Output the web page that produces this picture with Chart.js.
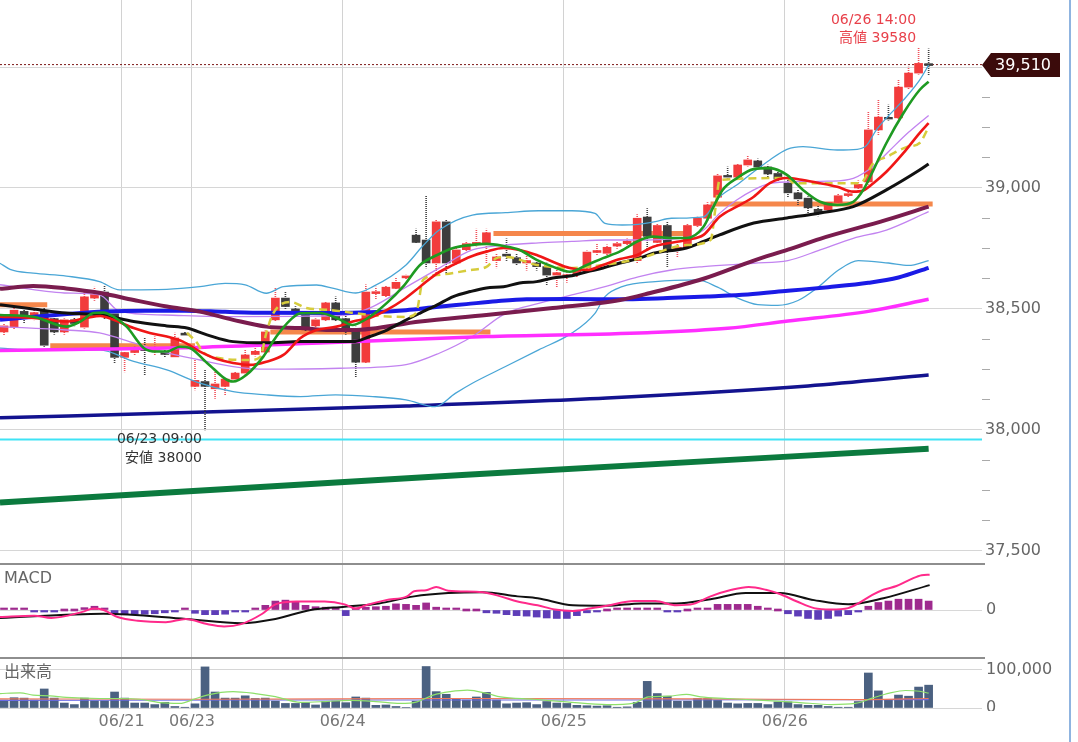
<!DOCTYPE html>
<html><head><meta charset="utf-8">
<script src="https://cdn.jsdelivr.net/npm/chart.js@4.4.1/dist/chart.umd.min.js"></script>
<style>
html,body{margin:0;padding:0;background:#fff;overflow:hidden;}
#wrap{position:relative;width:1078px;height:742px;background:#fff;}
canvas{position:absolute;left:0;}
#edge{position:absolute;left:1069px;top:0;width:2px;height:742px;background:#8fb4e0;}
</style></head><body>
<div id="wrap">
<canvas id="cMain" width="1078" height="563" style="top:0px"></canvas>
<canvas id="cMacd" width="1078" height="94" style="top:563px"></canvas>
<canvas id="cVol" width="1078" height="85" style="top:657px"></canvas>
<div id="edge"></div>
</div>
<script>
// ---------- categories (hourly bars) ----------
const times = [
'06/20 11:00','06/20 12:00','06/20 13:00','06/20 14:00','06/20 15:00','06/20 17:00','06/20 18:00','06/20 19:00','06/20 20:00','06/20 21:00','06/20 22:00','06/20 23:00',
'06/21 00:00','06/21 01:00','06/21 02:00','06/21 03:00','06/21 04:00','06/21 05:00','06/21 06:00',
'06/23 08:00','06/23 09:00','06/23 10:00','06/23 11:00','06/23 12:00','06/23 13:00','06/23 14:00','06/23 15:00','06/23 17:00','06/23 18:00','06/23 19:00','06/23 20:00','06/23 21:00','06/23 22:00','06/23 23:00',
'06/24 00:00','06/24 01:00','06/24 02:00','06/24 03:00','06/24 04:00','06/24 05:00','06/24 06:00','06/24 08:00','06/24 09:00','06/24 10:00','06/24 11:00','06/24 12:00','06/24 13:00','06/24 14:00','06/24 15:00','06/24 17:00','06/24 18:00','06/24 19:00','06/24 20:00','06/24 21:00','06/24 22:00','06/24 23:00',
'06/25 00:00','06/25 01:00','06/25 02:00','06/25 03:00','06/25 04:00','06/25 05:00','06/25 06:00','06/25 08:00','06/25 09:00','06/25 10:00','06/25 11:00','06/25 12:00','06/25 13:00','06/25 14:00','06/25 15:00','06/25 17:00','06/25 18:00','06/25 19:00','06/25 20:00','06/25 21:00','06/25 22:00','06/25 23:00',
'06/26 00:00','06/26 01:00','06/26 02:00','06/26 03:00','06/26 04:00','06/26 05:00','06/26 06:00','06/26 08:00','06/26 09:00','06/26 10:00','06/26 11:00','06/26 12:00','06/26 13:00','06/26 14:00','06/26 15:00'];
const dateTickIdx = [12, 19, 34, 56, 78];
const dateTickLabels = ['06/21', '06/23', '06/24', '06/25', '06/26'];

// ---------- OHLC ----------
const opens = [38405,38425,38490,38460,38490,38460,38405,38455,38425,38545,
38570,38480,38300,38320,38335,38328,38325,38302,38400,38180,
38200,38170,38180,38210,38235,38312,38322,38455,38545,38500,
38475,38430,38455,38525,38460,38415,38280,38565,38555,38585,
38630,38805,38785,38690,38860,38690,38745,38765,38773,38700,
38725,38712,38690,38690,38675,38640,38635,38645,38670,38735,
38730,38760,38770,38700,38880,38775,38845,38745,38755,38845,
38875,38962,39052,39045,39095,39112,39087,39060,39020,38980,
38958,38912,38910,38940,38970,39000,39025,39240,39292,39290,
39417,39475,39514];
const highs = [38440,38505,38505,38495,38505,38470,38460,38465,38580,38590,
38595,38490,38325,38345,38380,38385,38340,38400,38405,38290,
38250,38250,38215,38240,38330,38345,38410,38585,38570,38510,
38490,38460,38530,38550,38470,38425,38600,38590,38595,38630,
38640,38830,38970,38870,38870,38760,38780,38830,38830,38730,
38790,38730,38720,38700,38690,38670,38650,38665,38740,38770,
38765,38780,38790,38890,38915,38850,38860,38770,38850,38880,
38940,39060,39087,39100,39135,39120,39095,39070,39040,38990,
38965,38925,38945,38975,38985,39030,39314,39364,39343,39446,
39500,39580,39575];
const lows = [38390,38415,38440,38455,38345,38395,38395,38430,38420,38535,
38460,38275,38240,38310,38228,38310,38300,38300,38395,38165,
38000,38130,38145,38205,38230,38305,38318,38450,38500,38480,
38410,38420,38450,38450,38395,38220,38275,38540,38550,38580,
38625,38770,38670,38650,38650,38685,38740,38760,38690,38670,
38700,38680,38660,38660,38600,38590,38610,38630,38660,38720,
38720,38750,38760,38690,38744,38760,38675,38715,38745,38840,
38865,38955,39040,39040,39090,39080,39040,39030,38960,38930,
38895,38885,38900,38935,38960,38990,39015,39220,39280,39285,
39410,39470,39465];
const closes = [38430,38495,38470,38485,38350,38405,38455,38440,38550,38560,
38470,38300,38320,38335,38328,38336,38312,38380,38392,38205,
38180,38190,38210,38235,38310,38325,38405,38545,38510,38485,
38420,38455,38525,38455,38420,38280,38570,38570,38590,38610,
38635,38775,38690,38860,38690,38744,38770,38775,38815,38715,
38720,38690,38700,38675,38640,38650,38640,38660,38735,38740,
38755,38770,38780,38875,38800,38845,38745,38755,38845,38875,
38930,39050,39045,39095,39116,39087,39058,39037,38980,38955,
38918,38896,38940,38968,38975,39015,39240,39293,39285,39417,
39475,39515,39506];

// ---------- moving averages / bands (bar index, price) ----------
const maGreen = [[-0.4,38475],[2.9,38468],[6.2,38427],[7.6,38448],[8.9,38483],[9.9,38485],[10.9,38468],[12.2,38427],[13.9,38339],[15.2,38324],[16.2,38324],[17.5,38344],[18.5,38339],[20.2,38277],[22.8,38200],[24.1,38227],[25.8,38303],[27.1,38386],[28.5,38455],[29.5,38482],[31.4,38483],[33.1,38463],[34.7,38434],[36.4,38468],[38.1,38525],[39.7,38592],[41.4,38682],[43.1,38723],[44.7,38752],[46.4,38764],[48,38769],[49.7,38760],[51.3,38744],[53,38703],[54.6,38675],[56.3,38654],[58,38682],[59.6,38710],[61.3,38738],[63.3,38785],[64.6,38799],[66.3,38793],[67.9,38793],[69.6,38840],[70.6,38923],[71.5,38992],[72.9,39040],[74.6,39078],[76.2,39082],[77.9,39054],[79.5,38992],[81.2,38943],[82.9,38930],[84.5,38943],[85.5,38992],[86.5,39074],[87.8,39186],[89.5,39310],[91.1,39405],[92,39439]];
const maRed = [[-0.4,38468],[2.9,38463],[6.2,38448],[8.2,38463],[9.6,38471],[10.9,38455],[12.9,38421],[14.5,38401],[16.2,38386],[17.8,38365],[19.5,38324],[21.2,38293],[22.8,38277],[24.5,38269],[26.1,38282],[27.8,38310],[29.5,38380],[31.1,38413],[33.1,38427],[34.7,38448],[36.4,38463],[38.1,38496],[39.7,38537],[41.4,38592],[43.1,38647],[44.7,38682],[46.4,38716],[48,38737],[49.7,38752],[51.3,38744],[53,38723],[54.6,38695],[56.3,38669],[58,38661],[59.6,38682],[61.3,38706],[63,38723],[64.6,38757],[67.9,38785],[69.6,38806],[71.2,38881],[72.9,38923],[74.6,38964],[76.2,39020],[77.9,39041],[79.5,39033],[81.2,39020],[82.9,39005],[84.5,38985],[85.5,38990],[86.5,39020],[87.8,39067],[89.5,39145],[91.1,39227],[92,39268]];
const maYellow = [[18.2,38401],[19.2,38360],[19.8,38322],[21.2,38298],[24.5,38289],[25.5,38302],[26.1,38401],[26.8,38483],[28.5,38529],[30.1,38504],[32.4,38496],[37.4,38471],[40,38467],[41,38483],[41.7,38620],[43.1,38640],[46.4,38661],[48,38674],[49,38710],[50,38715],[53,38682],[56.3,38669],[59.6,38682],[63,38706],[67.9,38764],[70.3,38785],[70.8,38921],[71.2,39033],[77.9,39041],[78.6,39020],[85.2,39020],[86.5,39103],[87.8,39128],[89.8,39169],[91.1,39186],[92,39252]];
const maBlack = [[-0.4,38517],[2.9,38500],[6.2,38483],[9.6,38475],[12.9,38448],[16.2,38430],[18.2,38421],[20.2,38393],[22.8,38365],[26.1,38360],[29.5,38365],[34.7,38365],[36.4,38386],[38.1,38413],[39.7,38448],[41.4,38483],[43.1,38517],[44.7,38551],[46.4,38572],[48,38587],[49.7,38592],[51.3,38607],[53,38613],[54.6,38628],[56.3,38636],[58,38654],[59.6,38669],[61.3,38690],[63,38707],[64.6,38730],[67.9,38752],[69.6,38779],[71.2,38806],[74.6,38855],[77.9,38876],[81.2,38897],[84.5,38923],[87.8,38992],[91.1,39074],[92,39099]];
const maMaroon = [[-0.4,38583],[2.9,38595],[6.2,38585],[9.6,38566],[12.9,38537],[16.2,38510],[19.5,38489],[22.8,38455],[26.1,38427],[29.5,38421],[32.4,38413],[34.7,38413],[41.4,38448],[48,38475],[54.6,38504],[61.3,38537],[64.3,38566],[69.6,38625],[74.6,38700],[78,38745],[81.2,38790],[87.8,38868],[92,38923]];
const maBlue = [[-0.4,38455],[3,38468],[6,38478],[10,38489],[14,38493],[18,38493],[22,38488],[26,38484],[33,38483],[36.4,38486],[40,38495],[43,38508],[46,38520],[49,38532],[52,38540],[56,38541],[62,38540],[66,38545],[70,38552],[74,38560],[78,38575],[82,38590],[86,38608],[89,38630],[92,38670]];
const maMagenta = [[-0.4,38328],[10,38335],[20,38342],[32,38360],[48,38386],[64,38402],[72,38420],[78,38450],[86,38490],[92,38540]];
const maNavy = [[-0.4,38050],[20,38074],[40,38099],[60,38132],[80,38182],[92,38227]];
const maDarkGreen = [[-0.4,37700],[46,37815],[92,37922]];
const bbUpper2 = [[-0.4,38689],[0.6,38664],[2.9,38648],[6.2,38636],[9.5,38613],[11.5,38579],[16.2,38581],[19.5,38592],[22,38606],[24,38600],[26.1,38565],[27.8,38592],[31.1,38599],[32.8,38585],[35,38566],[36.7,38592],[40,38682],[41.6,38757],[43.3,38826],[46.6,38888],[49.9,38898],[53.2,38906],[56.5,38906],[58.8,38895],[59.8,38854],[61.5,38847],[63.1,38850],[64.8,38861],[66.4,38875],[69.6,38881],[71.2,38964],[72.9,39012],[74.6,39067],[76.2,39116],[77.9,39160],[79.5,39171],[82.9,39157],[84.9,39160],[85.8,39175],[86.8,39240],[87.8,39289],[89.5,39364],[91.1,39446],[92,39508]];
const bbUpper1 = [[-0.4,38600],[6,38566],[9.5,38558],[11.5,38490],[16,38475],[23,38468],[30,38470],[34,38475],[36.7,38510],[40,38590],[43.3,38669],[46.6,38744],[49.9,38764],[53.2,38773],[56.5,38779],[59.8,38785],[63,38785],[67.9,38795],[69.6,38826],[71.2,38895],[72.9,38950],[74.6,38992],[76.2,39019],[79,39026],[82,39028],[84.5,39040],[86.5,39090],[88,39150],[90,39230],[92,39300]];
const bbLower1 = [[-0.4,38427],[6.2,38413],[9.5,38401],[12.9,38360],[16.2,38318],[19.5,38289],[22.8,38262],[26.1,38251],[33.4,38255],[40,38270],[43.3,38317],[46.6,38386],[49.9,38482],[53.2,38523],[56.5,38558],[59.8,38592],[63.1,38633],[66.4,38661],[69.6,38675],[74.6,38689],[78,38700],[81.2,38744],[84.5,38792],[87.8,38826],[92,38902]];
const bbLower2 = [[-0.4,38338],[2.9,38331],[9.5,38331],[12.9,38283],[16.2,38248],[19.5,38193],[22.8,38158],[26.1,38145],[29.5,38138],[33,38145],[36.7,38138],[40,38124],[42.9,38096],[44.9,38151],[46.6,38193],[49.9,38262],[53.2,38331],[56.5,38400],[58.8,38482],[59.8,38551],[61.5,38592],[64.8,38613],[69,38620],[71,38590],[73,38545],[75,38518],[77,38515],[79,38535],[81,38590],[83,38660],[85,38700],[88,38690],[90,38680],[92,38700]];
// horizontal price levels
const levelFrom  = [-0.4, 4.6, 26.5, 48.7, 70.3];
const levelTo    = [4.3, 19.0, 48.4, 68.3, 92.4];
const levelPrice = [38517, 38348, 38405, 38812, 38934];
const cyanLevel = 37960;
const lastPrice = 39510;
const highIdx = 91, highVal = 39580, highTime = '06/26 14:00';
const lowIdx = 20, lowVal = 38000, lowTime = '06/23 09:00';
const priceTickValues = [37500,37625,37750,37875,38000,38125,38250,38375,38500,38625,38750,38875,39000,39125,39250,39375,39500];

// ---------- MACD ----------
const macdLine = [[-0.4,-15],[3,-12],[4.7,-17],[7.8,-4],[8.9,3],[9.9,0],[11.3,-15],[13.3,-23],[16.1,-26],[18.1,-19],[20.2,-30],[21.9,-35],[23.6,-30],[25.7,-8],[27,12],[29.1,18],[31.9,18],[33.9,12],[35,3],[36,10],[38,21],[40.1,29],[40.8,40],[42,42],[43,49],[44.2,41],[47.6,38],[49.4,29],[51.1,18],[53.1,10],[54.8,1],[56.6,-2],[58.3,3],[60,9],[62.7,19],[64.8,19],[66.9,10],[68.6,13],[70.3,29],[72.4,43],[74.1,49],[75.8,43],[77.2,34],[78.9,18],[80.6,4],[82.3,1],[84,4],[85,14],[86.4,32],[87.5,43],[88.8,51],[90.2,65],[91.3,74],[92.1,75]];
const macdSignal = [[-0.4,-17],[9.9,-8],[18.1,-19],[23.6,-28],[27,-19],[30.5,0],[33.9,7],[37.3,14],[40.8,29],[44.2,36],[47.6,38],[51.1,29],[53.1,25],[56.6,10],[60,9],[63.4,14],[66.9,14],[70.3,23],[73.8,36],[77.2,36],[80.6,21],[84,12],[87.5,25],[92.1,53]];
const macdHist = [1,1,1,-3,-3,-3,0,0,5,8,
3,-9,-9,-9,-9,-8,-6,-1,1,-7,
-10,-10,-9,-4,-1,4,10,19,21,18,
10,7,6,4,-12,4,6,7,8,13,
12,10,15,6,1,1,0,0,-6,-7,
-10,-12,-13,-15,-17,-18,-18,-12,-6,-3,
0,1,3,4,1,1,-3,-4,0,1,
4,12,12,12,12,8,1,0,-8,-13,
-18,-20,-18,-13,-10,-4,8,16,19,23,
23,23,19];
const macdTicks = [0];

// ---------- Volume ----------
const volumes = [21000,27000,26000,21000,50000,26000,13000,9000,26000,19000,
19000,42000,26000,13000,13000,9000,15000,4000,2000,11000,
108000,42000,26000,26000,32000,25000,26000,18000,12000,12000,
14000,8000,17000,18000,14000,29000,26000,7000,8000,4000,
1500,18000,109000,43000,36000,23000,21000,29000,41000,21000,
11000,13000,14000,9000,17000,13000,12000,7000,6000,5000,
6000,2000,3000,15000,70000,38000,31000,18000,18000,25000,
25000,20000,13000,11000,12000,12000,9000,16000,16000,9000,
7000,7000,4000,2000,2000,17000,92000,45000,21000,34000,
31000,55000,60000];
const volMaGreen = [[-0.4,38000],[1.6,40000],[2.9,34000],[4.6,32000],[6.2,28000],[9.5,25000],[11.5,25000],[13.5,23000],[15.5,14000],[17.5,12000],[18.8,22000],[20.2,34000],[22.8,43000],[25,38000],[27,30000],[29.5,15000],[32,17000],[34.4,20000],[37,17000],[39.4,12000],[41.1,16000],[42.7,34000],[44.4,43000],[46.1,47000],[48.1,38000],[49.4,29000],[52.7,23000],[56,16000],[60,9000],[62.7,13000],[64.1,29000],[66.1,31000],[67.9,36000],[69.3,29000],[72,25000],[75.5,20000],[78.9,15000],[82.3,9000],[84.7,12000],[86.4,26000],[88.1,39000],[89.7,46000],[91.1,44000],[92,39000]];
const volMaRed = [[-0.4,24000],[20,23000],[45,25000],[70,24000],[85,22000],[92,25000]];
const volMaPurple = [[-0.4,20000],[30,21000],[60,21000],[92,22000]];
const volTicks = [0, 100000];

// ---------- layout constants ----------
const X_MIN = -0.4, X_MAX = 97.31, AXIS_W = 96;
const FONT = '"DejaVu Sans","Noto Sans CJK JP",sans-serif';
Chart.defaults.font.family = FONT;
Chart.defaults.animation = false;

const pts = a => a.map(p => ({x: p[0], y: p[1]}));
function lineDS(arr, color, width, order, extra) {
  return Object.assign({type: 'line', data: pts(arr), borderColor: color, borderWidth: width,
    pointRadius: 0, fill: false, cubicInterpolationMode: 'monotone', order: order}, extra || {});
}
function zeroPad(s){ s.paddingTop = 0; s.paddingBottom = 0; s.paddingLeft = 0; s.paddingRight = 0; }
function xScale(showLabels, h) {
  return {
    type: 'linear', min: X_MIN, max: X_MAX, bounds: 'data', offset: false,
    afterBuildTicks: ax => { ax.ticks = dateTickIdx.map(v => ({value: v - 0.3})); },
    ticks: { display: showLabels, autoSkip: false, maxRotation: 0, minRotation: 0, padding: 4,
      color: '#777', font: {size: 16}, callback: (v, i) => dateTickLabels[i] },
    grid: { color: '#d2d2d2', drawTicks: false, lineWidth: 1, offset: false },
    border: { display: false },
    afterFit: s => { s.height = h; zeroPad(s); }
  };
}
function dotPattern(ctx, color) {
  const c = document.createElement('canvas'); c.width = 2; c.height = 2;
  const g = c.getContext('2d'); g.fillStyle = color; g.fillRect(0, 0, 2, 1);
  return ctx.createPattern(c, 'repeat');
}
const isUp = i => closes[i] >= opens[i];
function bodyRange(i) {
  const o = opens[i], c = closes[i];
  if (Math.abs(o - c) < 7) { const m = (o + c) / 2; return [m - 4, m + 4]; }
  return [o, c];
}

// ---------- main chart ----------
const mctx = document.getElementById('cMain').getContext('2d');
const redDots = dotPattern(mctx, '#f0505a');
const darkDots = dotPattern(mctx, '#404040');
const idx = opens.map((_, i) => i);

const mainDatasets = [
  lineDS(maGreen, '#1e9a22', 2.6, 1),
  lineDS(maRed, '#f01616', 2.6, 2),
  lineDS(maYellow, '#d6cc3c', 2.5, 3, {borderDash: [8, 5]}),
  lineDS(maBlack, '#111111', 3, 4),
  lineDS(maMaroon, '#7a1c4e', 4, 5),
  lineDS(maBlue, '#1a1ae6', 4, 6),
  lineDS(maMagenta, '#ff2eff', 3.5, 7),
  lineDS(bbUpper2, '#4aa6d6', 1.3, 9),
  lineDS(bbLower2, '#4aa6d6', 1.3, 9),
  lineDS(bbUpper1, '#c283f0', 1.3, 9),
  lineDS(bbLower1, '#c283f0', 1.3, 9),
  { type: 'bar', data: idx.map(i => ({x: i, y: bodyRange(i)})), grouped: false, barThickness: 8,
    backgroundColor: c => isUp(c.dataIndex) ? '#f23c3c' : '#3d3d3d', borderWidth: 0, order: 12 },
  { type: 'bar', data: idx.map(i => ({x: i, y: [lows[i], highs[i]]})), grouped: false, barThickness: 1,
    backgroundColor: c => isUp(c.dataIndex) ? redDots : darkDots, borderWidth: 0, order: 13 },
  lineDS([[X_MIN, lastPrice], [X_MAX, lastPrice]], '#7a1414', 1, 14, {borderDash: [2, 2]}),
  lineDS(maNavy, '#13138f', 3.5, 16),
  lineDS(maDarkGreen, '#0b7a3e', 6, 16),
  lineDS([[X_MIN, cyanLevel], [X_MAX, cyanLevel]], '#3fe3f5', 2, 16)
];
levelPrice.forEach((p, k) => {
  mainDatasets.push(lineDS([[levelFrom[k], p], [levelTo[k], p]], '#f5874b', 5, 15, {borderCapStyle: 'butt'}));
});

const mainDecor = {
  id: 'mainDecor',
  afterDraw(chart) {
    const {ctx, scales: {x, y}, chartArea} = chart;
    ctx.save();
    ctx.textBaseline = 'middle';
    ctx.font = '14px ' + FONT;
    ctx.textAlign = 'right';
    const hx = x.getPixelForValue(highIdx) - 2.5, hy = y.getPixelForValue(highVal);
    ctx.fillStyle = '#e8404a';
    ctx.fillText(highTime, hx, hy - 27);
    ctx.fillText('高値 ' + highVal, hx, hy - 9);
    const lx = x.getPixelForValue(lowIdx) - 3, ly = y.getPixelForValue(lowVal);
    ctx.fillStyle = '#333333';
    ctx.fillText(lowTime, lx, ly + 9);
    ctx.fillText('安値 ' + lowVal, lx, ly + 28);
    const py = Math.round(y.getPixelForValue(lastPrice));
    const L = chartArea.right;
    ctx.fillStyle = '#3b0b0b';
    ctx.beginPath();
    ctx.moveTo(L, py); ctx.lineTo(L + 9, py - 12); ctx.lineTo(L + 78, py - 12);
    ctx.lineTo(L + 78, py + 12); ctx.lineTo(L + 9, py + 12); ctx.closePath(); ctx.fill();
    ctx.fillStyle = '#ffffff';
    ctx.font = '16px ' + FONT;
    ctx.textAlign = 'left';
    ctx.fillText(lastPrice.toLocaleString('en-US'), L + 13, py + 1);
    ctx.restore();
  }
};

new Chart(mctx, {
  type: 'line',
  data: { datasets: mainDatasets },
  options: {
    responsive: false, animation: false, events: [],
    layout: { padding: 0 },
    plugins: { legend: { display: false }, tooltip: { enabled: false } },
    scales: {
      x: xScale(false, 0),
      y: {
        position: 'right', min: 37450, max: 39777, bounds: 'data',
        afterBuildTicks: ax => { ax.ticks = priceTickValues.map(v => ({value: v})); },
        ticks: { autoSkip: false, color: '#666', font: {size: 16}, padding: -5,
          callback: v => (v % 500 === 0 ? v.toLocaleString('en-US') : '') },
        grid: {
          color: c => (c.tick && c.tick.value % 500 === 0) ? '#d6d6d6' : 'rgba(0,0,0,0)',
          tickColor: c => (c.tick && c.tick.value % 500 === 0) ? 'rgba(0,0,0,0)' : '#aaaaaa',
          tickLength: 8, lineWidth: 1
        },
        border: { display: false },
        afterFit: s => { s.width = AXIS_W; zeroPad(s); }
      }
    }
  },
  plugins: [mainDecor]
});

// ---------- panel decoration ----------
function panelDecor(title, coverZero) {
  return {
    id: 'panel_' + (coverZero ? 'vol' : 'macd'),
    afterDraw(chart) {
      const {ctx, chartArea} = chart;
      ctx.save();
      ctx.fillStyle = '#8e8e8e';
      ctx.fillRect(0, 0, chartArea.right + 3, 2);
      ctx.fillStyle = '#666';
      ctx.font = '16px ' + FONT;
      ctx.textAlign = 'left'; ctx.textBaseline = 'middle';
      ctx.fillText(title, 4, 16);
      if (coverZero) {
        ctx.fillStyle = '#fff';
        ctx.fillRect(chartArea.right + 1, chartArea.bottom + 3, 90, 40);
      }
      ctx.restore();
    }
  };
}

// ---------- MACD chart ----------
new Chart(document.getElementById('cMacd').getContext('2d'), {
  type: 'line',
  data: { datasets: [
    lineDS(macdLine, '#ff2a8a', 2, 1),
    lineDS(macdSignal, '#111111', 2, 2),
    { type: 'bar', data: idx.map(i => ({x: i, y: macdHist[i]})), grouped: false, barThickness: 7, minBarLength: 2,
      backgroundColor: c => macdHist[c.dataIndex] >= 0 ? '#9e2a8e' : '#5e3db8', borderWidth: 0, order: 5 }
  ]},
  options: {
    responsive: false, animation: false, events: [],
    plugins: { legend: { display: false }, tooltip: { enabled: false } },
    scales: {
      x: xScale(false, 0),
      y: {
        position: 'right', min: -100, max: 100, bounds: 'data',
        afterBuildTicks: ax => { ax.ticks = macdTicks.map(v => ({value: v})); },
        ticks: { autoSkip: false, color: '#666', font: {size: 16}, padding: 4, callback: v => String(v) },
        grid: { color: '#d8d8d8', drawTicks: false },
        border: { display: false },
        afterFit: s => { s.width = AXIS_W; zeroPad(s); }
      }
    }
  },
  plugins: [panelDecor('MACD', false)]
});

// ---------- Volume chart ----------
new Chart(document.getElementById('cVol').getContext('2d'), {
  type: 'line',
  data: { datasets: [
    lineDS(volMaGreen, '#8ee06a', 1.2, 1),
    lineDS(volMaRed, '#f0785a', 1.2, 2),
    lineDS(volMaPurple, '#6a6ae6', 1.2, 3),
    { type: 'bar', data: idx.map(i => ({x: i, y: volumes[i]})), grouped: false, barThickness: 8,
      backgroundColor: '#4b6181', borderWidth: 0, order: 5 }
  ]},
  options: {
    responsive: false, animation: false, events: [],
    plugins: { legend: { display: false }, tooltip: { enabled: false } },
    scales: {
      x: xScale(true, 34),
      y: {
        position: 'right', min: 0, max: 134000, bounds: 'data',
        afterBuildTicks: ax => { ax.ticks = volTicks.map(v => ({value: v})); },
        ticks: { autoSkip: false, color: '#666', font: {size: 16}, padding: 4,
          callback: v => v.toLocaleString('en-US') },
        grid: { color: '#d6d6d6', drawTicks: false },
        border: { display: false },
        afterFit: s => { s.width = AXIS_W; zeroPad(s); }
      }
    }
  },
  plugins: [panelDecor('出来高', true)]
});
</script>
</body></html>
